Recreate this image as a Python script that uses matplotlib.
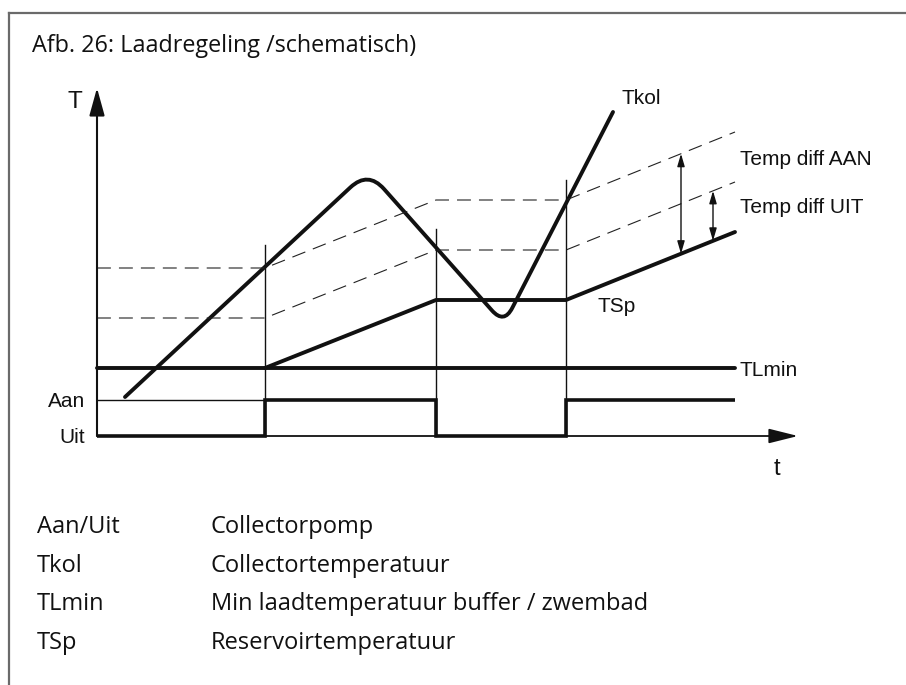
import numpy as np
import matplotlib
matplotlib.use('Agg')
import matplotlib.pyplot as plt
from matplotlib.path import Path
from matplotlib.patches import PathPatch
from matplotlib.lines import Line2D

plt.rcParams['lines.scale_dashes'] = False

W, H = 906, 685
INK = '#111111'

# sketch units: t to the right, T upwards, origin where the axes meet
pump_t = [0, 168, 339, 469, 638]
pump_state = [0, 1, 0, 1, 1]
pump_level = 36
switch_t = [168, 339, 469]
switch_top = [191, 207, 256]

tlmin_t = [0, 638]
tlmin_T = 68

tsp_t = [168, 339, 469, 638]
tsp_T = [68, 136, 136, 204]

diff_t = [0, 168, 339, 469, 638]
diff_on_T = [168, 168, 236, 236, 304]
diff_off_T = [118, 118, 186, 186, 254]

tkol_t = [28, 271, 407, 516]
tkol_T = [39, 265, 112, 324]
tkol_round = [0, 24, 18, 0]

# position of the two difference arrows and their size
arrow_t = [584, 616]
arrow_diff = [100, 50]

legend_keys = ['Aan/Uit', 'Tkol', 'TLmin', 'TSp']
legend_desc = ['Collectorpomp', 'Collectortemperatuur',
               'Min laadtemperatuur buffer / zwembad', 'Reservoirtemperatuur']


def rounded_path(xs, ys, radii):
    verts = [(xs[0], ys[0])]
    codes = [Path.MOVETO]
    for i in range(1, len(xs) - 1):
        p = np.array([xs[i], ys[i]], float)
        a = np.array([xs[i - 1], ys[i - 1]], float) - p
        b = np.array([xs[i + 1], ys[i + 1]], float) - p
        a /= np.hypot(*a)
        b /= np.hypot(*b)
        r = radii[i]
        verts += [tuple(p + r * a), tuple(p), tuple(p + r * b)]
        codes += [Path.LINETO, Path.CURVE3, Path.CURVE3]
    verts.append((xs[-1], ys[-1]))
    codes.append(Path.LINETO)
    return Path(verts, codes)


def fxy(x, y):
    return x / W, 1 - y / H


fig = plt.figure(figsize=(W / 100, H / 100), dpi=100)
ax = fig.add_axes([0, 0, 1, 1])
ax.set_xlim(-97, W - 97)
ax.set_ylim(436 - H, 436)
ax.axis('off')

# frame
fig.add_artist(Line2D([9 / W, 9 / W], [1 - 13 / H, 0], transform=fig.transFigure,
                      color='#6a6a6a', lw=1.6))
fig.add_artist(Line2D([9 / W, 1], [1 - 13 / H, 1 - 13 / H], transform=fig.transFigure,
                      color='#6a6a6a', lw=1.6))

# dashed switching thresholds
ax.plot(diff_t, diff_on_T, color='#222222', lw=0.8, dashes=(10, 5.8))
ax.plot(diff_t, diff_off_T, color='#222222', lw=0.8, dashes=(10, 5.8))

# switching moments
for t, top in zip(switch_t, switch_top):
    ax.plot([t, t], [0, top], color=INK, lw=1.0)
ax.plot([0, switch_t[0]], [pump_level, pump_level], color=INK, lw=1.0)

# axes with arrow heads
ax.annotate('', xy=(0, 348), xytext=(0, 0),
            arrowprops=dict(arrowstyle='-|>,head_length=1.7,head_width=0.47',
                            mutation_scale=10, lw=1.5, color=INK,
                            shrinkA=0, shrinkB=0))
ax.annotate('', xy=(701, 0), xytext=(0, 0),
            arrowprops=dict(arrowstyle='-|>,head_length=1.8,head_width=0.45',
                            mutation_scale=10, lw=1.3, color=INK,
                            shrinkA=0, shrinkB=0))

# difference arrows
for t, d in zip(arrow_t, arrow_diff):
    base = np.interp(t, tsp_t, tsp_T)
    ax.annotate('', xy=(t, base + d), xytext=(t, base),
                arrowprops=dict(arrowstyle='<|-|>,head_length=0.75,head_width=0.22',
                                mutation_scale=10, lw=1.0, color=INK,
                                shrinkA=0, shrinkB=0))

# thick curves
ax.step(pump_t, np.array(pump_state) * pump_level, where='post',
        color=INK, lw=2.6, solid_joinstyle='miter', solid_capstyle='butt')
ax.plot(tlmin_t, [tlmin_T, tlmin_T], color=INK, lw=2.8, solid_capstyle='round')
ax.plot(tsp_t, tsp_T, color=INK, lw=2.8, solid_capstyle='round', solid_joinstyle='round')
ax.add_patch(PathPatch(rounded_path(tkol_t, tkol_T, tkol_round), fill=False,
                       color=INK, lw=2.8, capstyle='round', joinstyle='round'))

# labels in the sketch
lab = dict(family='Liberation Sans', fontsize=15, color=INK, va='baseline')
ax.text(-22, 328, 'T', ha='center', **{**lab, 'fontsize': 17.5})
ax.text(-12, 29, 'Aan', ha='right', **lab)
ax.text(-12, -7, 'Uit', ha='right', **lab)
ax.text(680, -39, 't', ha='center', **{**lab, 'fontsize': 17})
ax.text(525, 332, 'Tkol', ha='left', **lab)
ax.text(643, 271, 'Temp diff AAN', ha='left', **lab)
ax.text(643, 223, 'Temp diff UIT', ha='left', **lab)
ax.text(501, 124, 'TSp', ha='left', **lab)
ax.text(642, 60, 'TLmin', ha='left', **lab)

# caption and key
fig.text(*fxy(32, 52), 'Afb. 26: Laadregeling /schematisch)', family='Open Sans',
         fontsize=16.8, color=INK, va='baseline', ha='left')
for i, (k, d) in enumerate(zip(legend_keys, legend_desc)):
    y = 533 + i * 38.7
    fig.text(*fxy(37, y), k, family='Open Sans', fontsize=17, color=INK, va='baseline')
    fig.text(*fxy(211, y), d, family='Open Sans', fontsize=17, color=INK, va='baseline')

fig.savefig('out.png', dpi=100)
